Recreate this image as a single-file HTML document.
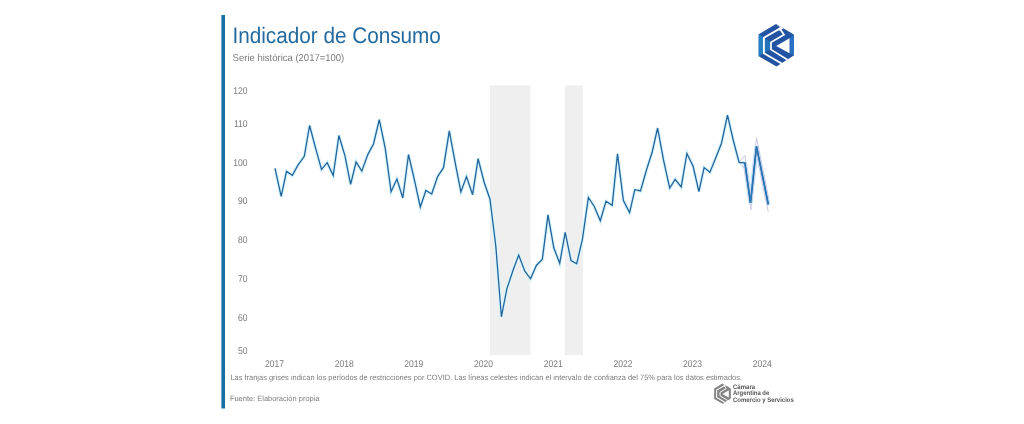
<!DOCTYPE html>
<html><head><meta charset="utf-8"><style>
html,body{margin:0;padding:0;background:#fff;width:1024px;height:424px;overflow:hidden}
svg{display:block;filter:blur(0.35px)}
text{font-family:"Liberation Sans",sans-serif;text-rendering:geometricPrecision}
.ax{font-size:9.8px;fill:#7a7a7a}
</style></head><body>
<svg width="1024" height="424" viewBox="0 0 1024 424">
<rect x="0" y="0" width="1024" height="424" fill="#fff"/>
<rect x="221.4" y="15" width="3.6" height="393.5" fill="#196ea3"/>
<text x="232.4" y="43" font-size="22.4" fill="#246a9f" textLength="208.5" lengthAdjust="spacingAndGlyphs">Indicador de Consumo</text>
<text x="232.6" y="60.9" font-size="10" fill="#7a7a7a" textLength="111.7" lengthAdjust="spacingAndGlyphs">Serie histórica (2017=100)</text>
<rect x="489.9" y="85.4" width="40.6" height="269.7" fill="#efefef"/>
<rect x="564.8" y="85.4" width="18" height="269.7" fill="#efefef"/>
<text transform="translate(247.6,93.9) scale(0.87,1)" text-anchor="end" class="ax">120</text>
<text transform="translate(247.6,127.0) scale(0.87,1)" text-anchor="end" class="ax">110</text>
<text transform="translate(247.6,166.0) scale(0.87,1)" text-anchor="end" class="ax">100</text>
<text transform="translate(247.6,204.4) scale(0.87,1)" text-anchor="end" class="ax">90</text>
<text transform="translate(247.6,243.2) scale(0.87,1)" text-anchor="end" class="ax">80</text>
<text transform="translate(247.6,282.0) scale(0.87,1)" text-anchor="end" class="ax">70</text>
<text transform="translate(247.6,320.8) scale(0.87,1)" text-anchor="end" class="ax">60</text>
<text transform="translate(247.6,354.0) scale(0.87,1)" text-anchor="end" class="ax">50</text>
<text transform="translate(274.5,367.1) scale(0.87,1)" text-anchor="middle" class="ax">2017</text>
<text transform="translate(344.2,367.1) scale(0.87,1)" text-anchor="middle" class="ax">2018</text>
<text transform="translate(413.8,367.1) scale(0.87,1)" text-anchor="middle" class="ax">2019</text>
<text transform="translate(483.5,367.1) scale(0.87,1)" text-anchor="middle" class="ax">2020</text>
<text transform="translate(553.2,367.1) scale(0.87,1)" text-anchor="middle" class="ax">2021</text>
<text transform="translate(622.9,367.1) scale(0.87,1)" text-anchor="middle" class="ax">2022</text>
<text transform="translate(692.5,367.1) scale(0.87,1)" text-anchor="middle" class="ax">2023</text>
<text transform="translate(762.2,367.1) scale(0.87,1)" text-anchor="middle" class="ax">2024</text>
<polyline points="275.0,168.4 281.2,196.3 286.5,171.4 292.4,175.4 297.9,165.2 304.3,156.3 309.6,125.5 315.5,147.8 321.5,169.4 327.2,162.7 333.2,175.6 338.9,135.5 344.9,155.6 350.6,184.3 356.1,162.0 361.8,171.1 367.8,154.6 373.5,144.0 379.3,119.6 385.2,148.2 391.1,191.7 396.9,179.0 402.8,198.0 408.5,154.5 414.4,179.8 420.3,207.0 425.9,190.5 431.7,194.0 437.6,176.6 443.5,167.7 449.3,130.9 455.2,162.8 460.9,191.9 466.5,176.6 472.6,194.7 478.1,158.6 484.2,182.5 490.0,199.2 495.8,246.0 501.4,316.8 506.8,289.1 512.8,271.0 518.7,255.0 524.7,271.0 530.5,278.8 536.5,265.2 542.3,259.5 548.0,214.9 553.8,247.8 559.7,263.3 565.2,232.3 571.0,260.5 576.7,263.7 582.4,239.3 588.4,197.5 594.4,206.7 600.3,220.7 606.0,201.3 612.2,205.4 617.5,153.8 623.4,200.5 629.6,212.6 634.8,189.7 640.5,191.0 646.3,170.5 652.2,152.0 657.6,128.0 663.5,159.9 669.7,188.1 675.2,179.4 681.2,186.9 686.9,153.5 693.1,166.3 698.9,191.6 704.1,167.6 709.9,172.3 715.8,157.7 721.5,143.2 727.5,115.2 733.2,140.0 739.1,162.5 744.9,162.8 750.5,203.0 756.5,146.4 768.3,204.5" fill="none" stroke="#d9f4fd" stroke-width="3.6" stroke-linejoin="miter" stroke-miterlimit="4"/>
<polyline points="744.9,162.8 750.5,203 756.5,146.4 768.3,204.5" fill="none" stroke="#c2e4f6" stroke-width="4.4"/>
<polyline points="739.1,162.5 744.9,155.6 750.5,197 756.5,137.5 768.3,199" fill="none" stroke="#c9c9e3" stroke-width="1"/>
<polyline points="739.1,162.5 744.5,168.8 750.9,209.8 756.5,152 768.2,211.6" fill="none" stroke="#c9c9e3" stroke-width="1"/>
<polyline points="275.0,168.4 281.2,196.3 286.5,171.4 292.4,175.4 297.9,165.2 304.3,156.3 309.6,125.5 315.5,147.8 321.5,169.4 327.2,162.7 333.2,175.6 338.9,135.5 344.9,155.6 350.6,184.3 356.1,162.0 361.8,171.1 367.8,154.6 373.5,144.0 379.3,119.6 385.2,148.2 391.1,191.7 396.9,179.0 402.8,198.0 408.5,154.5 414.4,179.8 420.3,207.0 425.9,190.5 431.7,194.0 437.6,176.6 443.5,167.7 449.3,130.9 455.2,162.8 460.9,191.9 466.5,176.6 472.6,194.7 478.1,158.6 484.2,182.5 490.0,199.2 495.8,246.0 501.4,316.8 506.8,289.1 512.8,271.0 518.7,255.0 524.7,271.0 530.5,278.8 536.5,265.2 542.3,259.5 548.0,214.9 553.8,247.8 559.7,263.3 565.2,232.3 571.0,260.5 576.7,263.7 582.4,239.3 588.4,197.5 594.4,206.7 600.3,220.7 606.0,201.3 612.2,205.4 617.5,153.8 623.4,200.5 629.6,212.6 634.8,189.7 640.5,191.0 646.3,170.5 652.2,152.0 657.6,128.0 663.5,159.9 669.7,188.1 675.2,179.4 681.2,186.9 686.9,153.5 693.1,166.3 698.9,191.6 704.1,167.6 709.9,172.3 715.8,157.7 721.5,143.2 727.5,115.2 733.2,140.0 739.1,162.5 744.9,162.8 750.5,203.0 756.5,146.4 768.3,204.5" fill="none" stroke="#23649a" stroke-width="1.3" stroke-linejoin="miter" stroke-miterlimit="4"/>
<polyline points="744.9,162.8 750.5,203 756.5,146.4 768.3,204.5" fill="none" stroke="#2673b5" stroke-width="1.5" stroke-linejoin="miter"/>
<text x="230.4" y="379.9" font-size="7.7" fill="#7c7c7c" textLength="511.6" lengthAdjust="spacingAndGlyphs">Las franjas grises indican los períodos de restricciones por COVID. Las líneas celestes indican el intervalo de confianza del 75% para los datos estimados.</text>
<text x="229.9" y="400.6" font-size="7.6" fill="#7c7c7c" textLength="89.6" lengthAdjust="spacingAndGlyphs">Fuente: Elaboración propia</text>
<!-- top logo -->
<defs>
<linearGradient id="lg" x1="0" y1="0" x2="1" y2="1">
<stop offset="0" stop-color="#1f70b5"/><stop offset="0.5" stop-color="#2256a6"/><stop offset="1" stop-color="#2a7cc4"/>
</linearGradient>
</defs>
<g>
  <polygon points="776,24 793.8,34.5 793.8,55.5 776.5,66.6 758.7,56.2 758.7,34.2" fill="#2254a3"/>
  <polygon points="758.7,34.2 763,36.8 763,53.6 758.7,56.2" fill="#2280c3"/>
  <polygon points="764.8,38.6 771,42.2 771,49.6 764.8,52.3" fill="#2275ba"/>
  <polygon points="789.5,38.2 793.8,34.5 793.8,55.5 789.5,53.3" fill="#276fc0"/>
  <polyline points="781.5,27.6 763.9,37.8 763.9,53.3 782,63.8" fill="none" stroke="#fff" stroke-width="1.9"/>
  <polyline points="779.3,27.9 781.6,31.2 784,34.7 771,42.2 771,49.6 787.5,59.8" fill="none" stroke="#fff" stroke-width="1.7"/>
  <polygon points="776.2,46 789.5,38.2 789.5,53.3" fill="#fff"/>
  <polygon points="775.9,24.1 783.3,28.4 778.9,30.9 780.2,27.4" fill="#fff"/>
</g>
<!-- bottom logo -->
<g transform="translate(353.8,372.2) scale(0.475)">
  <polygon points="776,24 793.8,34.5 793.8,55.5 776.5,66.6 758.7,56.2 758.7,34.2" fill="#838383"/>
  <polyline points="781.5,27.6 763.9,37.8 763.9,53.3 782,63.8" fill="none" stroke="#fff" stroke-width="2.2"/>
  <polyline points="779.3,27.9 781.6,31.2 784,34.7 771,42.2 771,49.6 787.5,59.8" fill="none" stroke="#fff" stroke-width="2"/>
  <polygon points="776.2,46 789.5,38.2 789.5,53.3" fill="#fff"/>
  <polygon points="775.9,24.1 783.3,28.4 778.9,30.9 780.2,27.4" fill="#fff"/>
</g>
<text x="733" y="388.6" font-size="6.6" font-weight="bold" fill="#555" textLength="22.2" lengthAdjust="spacingAndGlyphs">Cámara</text>
<text x="733" y="395.4" font-size="6.6" font-weight="bold" fill="#555" textLength="36.3" lengthAdjust="spacingAndGlyphs">Argentina de</text>
<text x="733" y="402.2" font-size="6.6" font-weight="bold" fill="#555" textLength="60.8" lengthAdjust="spacingAndGlyphs">Comercio y Servicios</text>
</svg>
</body></html>
